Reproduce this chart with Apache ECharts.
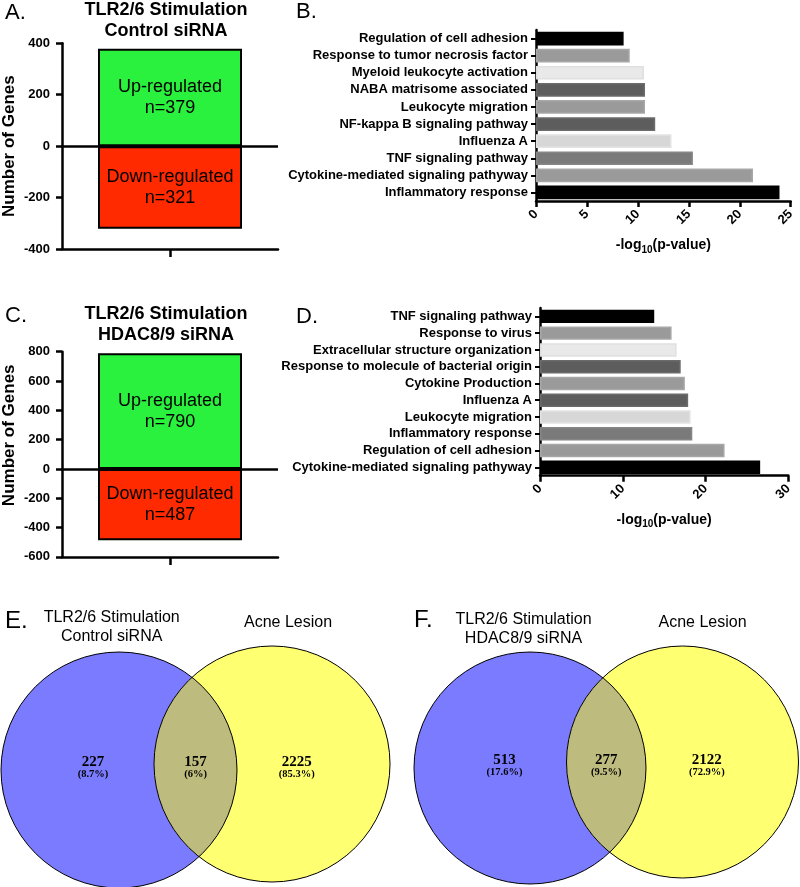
<!DOCTYPE html>
<html><head><meta charset="utf-8">
<script src="https://cdn.jsdelivr.net/npm/echarts@6/dist/echarts.min.js"></script>
<style>html,body{margin:0;padding:0;background:#fff}#c{width:800px;height:887px}</style>
</head><body><div id="c"></div>
<script>
// ---------- data ----------
const regulationNames = ['Up-regulated', 'Down-regulated'];
const controlCounts = [379, -321];
const hdacCounts = [790, -487];

const controlTerms = ['Regulation of cell adhesion', 'Response to tumor necrosis factor', 'Myeloid leukocyte activation', 'NABA matrisome associated', 'Leukocyte migration', 'NF-kappa B signaling pathway', 'Influenza A', 'TNF signaling pathway', 'Cytokine-mediated signaling pathyway', 'Inflammatory response'];
const controlLogP = [8.6, 9.2, 10.6, 10.7, 10.7, 11.7, 13.3, 15.4, 21.3, 23.9];

const hdacTerms = ['TNF signaling pathway', 'Response to virus', 'Extracellular structure organization', 'Response to molecule of bacterial origin', 'Cytokine Production', 'Influenza A', 'Leukocyte migration', 'Inflammatory response', 'Regulation of cell adhesion', 'Cytokine-mediated signaling pathyway'];
const hdacLogP = [13.8, 15.9, 16.5, 17.0, 17.5, 17.9, 18.2, 18.4, 22.3, 26.6];

const vennRegions = ['TLR2/6 only', 'Both', 'Acne only'];
const vennControlCounts = [227, 157, 2225];
const vennControlPct = ['8.7%', '6%', '85.3%'];
const vennHdacCounts = [513, 277, 2122];
const vennHdacPct = ['17.6%', '9.5%', '72.9%'];

// ---------- styles ----------
const SANS = '"Liberation Sans", Arial, Helvetica, sans-serif';
const SERIF = '"Liberation Serif", "Times New Roman", serif';
const shadeFill = ['#000000', '#9a9a9a', '#e9e9e9', '#5d5d5d', '#9a9a9a', '#5d5d5d', '#d7d7d7', '#7a7a7a', '#9a9a9a', '#000000'];
const shadeEdge = ['#000000', '#a7a7a7', '#e0e0e0', '#6b6b6b', '#a7a7a7', '#6b6b6b', '#e3e3e3', '#868686', '#a7a7a7', '#000000'];
const upColor = '#2af03e', downColor = '#ff2a00';
const vennBlue = '#7b7bff', vennYellow = '#ffff72', vennMix = '#bdbb7e';

// venn layouts (local axis units of hidden grids): [cx, cy, r]
const vennLayoutE = { a: [119, 180, 118], b: [272, 174, 118] };
const vennLayoutF = { a: [130, 178, 116], b: [282.5, 172, 116] };

const axisBlack = { color: '#000', width: 2.5 };
const boldLabel = { fontWeight: 'bold', fontSize: 13, color: '#000', fontFamily: SANS };

function countYAxis(gi, min, max, namePad) {
  return {
    type: 'value', gridIndex: gi, min: min, max: max, interval: 200,
    name: 'Number of Genes', nameLocation: 'middle', nameRotate: 90, nameGap: 44,
    nameTextStyle: { fontWeight: 'bold', fontSize: 17, color: '#000', fontFamily: SANS, padding: namePad },
    axisLine: { show: true, lineStyle: axisBlack },
    axisTick: { show: true, length: 6, lineStyle: axisBlack },
    axisLabel: Object.assign({ margin: 12 }, boldLabel),
    splitLine: { show: false }
  };
}
function singleCatXAxis(gi) {
  return {
    type: 'category', gridIndex: gi, data: [''],
    axisLine: { show: true, onZero: false, lineStyle: axisBlack },
    axisTick: { show: true, alignWithLabel: true, length: 8, lineStyle: axisBlack },
    axisLabel: { show: false }, splitLine: { show: false }
  };
}
function regBar(gi, value, name, color, withZero) {
  const s = {
    type: 'bar', name: name, xAxisIndex: gi, yAxisIndex: gi, barWidth: 144, barGap: '-100%',
    data: [{ value: value, name: name }],
    itemStyle: { color: color, borderColor: '#000', borderWidth: 2 },
    label: {
      show: true, position: 'inside', color: '#000', fontSize: 18, lineHeight: 21, fontFamily: SANS,
      formatter: p => p.name + '\nn=' + Math.abs(p.value)
    },
    silent: true, animation: false
  };
  if (withZero) {
    s.markLine = { silent: true, symbol: 'none', label: { show: false },
      lineStyle: { color: '#000', width: 2.5, type: 'solid' }, data: [{ yAxis: 0 }] };
  }
  return s;
}
function termYAxis(gi, terms) {
  return {
    type: 'category', gridIndex: gi, data: terms, inverse: true,
    axisLine: { show: true, lineStyle: axisBlack },
    axisTick: { show: true, alignWithLabel: true, interval: 0, length: 5, lineStyle: { color: '#000', width: 2 } },
    axisLabel: Object.assign({ margin: 8, interval: 0 }, boldLabel),
    splitLine: { show: false }
  };
}
function logPXAxis(gi, max, interval) {
  return {
    type: 'value', gridIndex: gi, min: 0, max: max, interval: interval,
    name: '-log{sub|10}(p-value)', nameLocation: 'middle', nameGap: 34,
    nameTextStyle: { fontWeight: 'bold', fontSize: 14, color: '#000', fontFamily: SANS, lineHeight: 20,
      rich: { sub: { fontWeight: 'bold', fontSize: 10, lineHeight: 10, verticalAlign: 'bottom', color: '#000', fontFamily: SANS } } },
    axisLine: { show: true, onZero: false, lineStyle: axisBlack },
    axisTick: { show: true, length: 6, lineStyle: axisBlack },
    axisLabel: Object.assign({ rotate: 45, margin: 11 }, boldLabel),
    splitLine: { show: false }
  };
}
function termBars(gi, values) {
  return {
    type: 'bar', xAxisIndex: gi, yAxisIndex: gi, barWidth: '80%', silent: true, animation: false,
    data: values.map((v, i) => ({ value: v, itemStyle: { color: shadeFill[i], borderColor: shadeEdge[i], borderWidth: 1.5 } }))
  };
}
function hiddenAxes(gi) {
  return [
    { type: 'value', gridIndex: gi, min: 0, max: 400, show: false },
    { type: 'value', gridIndex: gi, min: 0, max: 297, inverse: true, show: false }
  ];
}
function vennSeries(gi, counts, pcts, L) {
  const drawOrder = [0, 2, 1];
  return {
    type: 'custom', coordinateSystem: 'cartesian2d', xAxisIndex: gi, yAxisIndex: gi, silent: true, animation: false, clip: false,
    data: drawOrder.map(k => ({ name: vennRegions[k], value: [k, counts[k]] })),
    renderItem: function (params, api) {
      const k = api.value(0), n = api.value(1);
      const c1 = api.coord([L.a[0], L.a[1]]), c2 = api.coord([L.b[0], L.b[1]]);
      const r1 = api.size([L.a[2], 0])[0], r2 = api.size([L.b[2], 0])[0];
      const midY = (c1[1] + c2[1]) / 2;
      const children = [];
      let tx;
      if (k === 0) {
        children.push({ type: 'circle', shape: { cx: c1[0], cy: c1[1], r: r1 }, style: { fill: vennBlue } });
        tx = c1[0] - 0.22 * r1;
      } else if (k === 2) {
        children.push({ type: 'circle', shape: { cx: c2[0], cy: c2[1], r: r2 }, style: { fill: vennYellow } });
        tx = c2[0] + 0.21 * r2;
      } else {
        const dx = c2[0] - c1[0], dy = c2[1] - c1[1], d = Math.hypot(dx, dy);
        const a = (r1 * r1 - r2 * r2 + d * d) / (2 * d), h = Math.sqrt(r1 * r1 - a * a);
        const phi1 = Math.atan2(dy, dx), phi2 = phi1 + Math.PI;
        const al1 = Math.atan2(h, a), al2 = Math.atan2(h, d - a);
        const pts = [];
        const N = 60;
        for (let i = 0; i <= N; i++) { const t = phi1 - al1 + 2 * al1 * i / N; pts.push([c1[0] + r1 * Math.cos(t), c1[1] + r1 * Math.sin(t)]); }
        for (let i = 0; i <= N; i++) { const t = phi2 - al2 + 2 * al2 * i / N; pts.push([c2[0] + r2 * Math.cos(t), c2[1] + r2 * Math.sin(t)]); }
        children.push({ type: 'polygon', shape: { points: pts }, style: { fill: vennMix } });
        children.push({ type: 'circle', shape: { cx: c1[0], cy: c1[1], r: r1 }, style: { fill: null, stroke: '#000', lineWidth: 1 } });
        children.push({ type: 'circle', shape: { cx: c2[0], cy: c2[1], r: r2 }, style: { fill: null, stroke: '#000', lineWidth: 1 } });
        tx = ((c2[0] - r2) + (c1[0] + r1)) / 2;
      }
      children.push({ type: 'text', style: { text: String(n), x: tx, y: midY - 5, align: 'center', verticalAlign: 'middle',
        font: 'bold 15px ' + SERIF, fill: '#000' } });
      children.push({ type: 'text', style: { text: '(' + pcts[k] + ')', x: tx, y: midY + 7, align: 'center', verticalAlign: 'middle',
        font: 'bold 10.5px ' + SERIF, fill: '#000' } });
      return { type: 'group', children: children };
    }
  };
}
function txt(text, x, y, font, align) {
  return { type: 'text', x: x, y: y, silent: true,
    style: { text: text, font: font, fill: '#000', align: align || 'center', verticalAlign: 'middle', lineHeight: 21 } };
}
function txt2(text, x, y, font, lh) {
  return { type: 'text', x: x, y: y, silent: true,
    style: { text: text, font: font, fill: '#000', align: 'center', verticalAlign: 'middle', lineHeight: lh } };
}

const noBounds = { outerBoundsMode: 'none', containLabel: false, show: false };
const option = {
  animation: false,
  backgroundColor: '#fff',
  textStyle: { fontFamily: SANS },
  grid: [
    Object.assign({ left: 62, top: 43.3, width: 216, height: 205.7 }, noBounds),
    Object.assign({ left: 536, top: 30, width: 254.7, height: 171 }, noBounds),
    Object.assign({ left: 62, top: 351.7, width: 216, height: 205.2 }, noBounds),
    Object.assign({ left: 540, top: 308, width: 248.3, height: 167.7 }, noBounds),
    Object.assign({ left: 0, top: 590, width: 400, height: 297 }, noBounds),
    Object.assign({ left: 400, top: 590, width: 400, height: 297 }, noBounds)
  ],
  xAxis: [
    singleCatXAxis(0),
    logPXAxis(1, 25, 5),
    singleCatXAxis(2),
    logPXAxis(3, 30, 10),
    hiddenAxes(4)[0],
    hiddenAxes(5)[0]
  ],
  yAxis: [
    countYAxis(0, -400, 400, [0, 0, 0, 0]),
    termYAxis(1, controlTerms),
    countYAxis(2, -600, 800, [0, 0, 0, 38]),
    termYAxis(3, hdacTerms),
    hiddenAxes(4)[1],
    hiddenAxes(5)[1]
  ],
  series: [
    regBar(0, controlCounts[0], regulationNames[0], upColor, false),
    regBar(0, controlCounts[1], regulationNames[1], downColor, true),
    termBars(1, controlLogP),
    regBar(2, hdacCounts[0], regulationNames[0], upColor, false),
    regBar(2, hdacCounts[1], regulationNames[1], downColor, true),
    termBars(3, hdacLogP),
    vennSeries(4, vennControlCounts, vennControlPct, vennLayoutE),
    vennSeries(5, vennHdacCounts, vennHdacPct, vennLayoutF)
  ],
  graphic: [
    txt('A.', 5, 13, '22px ' + SANS, 'left'),
    txt2('TLR2/6 Stimulation\nControl siRNA', 166, 20.5, 'bold 18px ' + SANS, 21),
    txt('B.', 296, 12, '22px ' + SANS, 'left'),
    txt('C.', 5, 316, '22px ' + SANS, 'left'),
    txt2('TLR2/6 Stimulation\nHDAC8/9 siRNA', 166, 325, 'bold 18px ' + SANS, 21),
    txt('D.', 296, 317, '22px ' + SANS, 'left'),
    txt('E.', 5, 621, '24px ' + SANS, 'left'),
    txt2('TLR2/6 Stimulation\nControl siRNA', 111.7, 627.5, '16px ' + SANS, 19),
    txt('Acne Lesion', 288, 623, '16px ' + SANS),
    txt('F.', 414, 620.5, '24px ' + SANS, 'left'),
    txt2('TLR2/6 Stimulation\nHDAC8/9 siRNA', 523.5, 629, '16px ' + SANS, 19),
    txt('Acne Lesion', 702.5, 623, '16px ' + SANS)
  ]
};
const chart = echarts.init(document.getElementById('c'), null, { renderer: 'canvas' });
chart.setOption(option);
</script>
</body></html>
